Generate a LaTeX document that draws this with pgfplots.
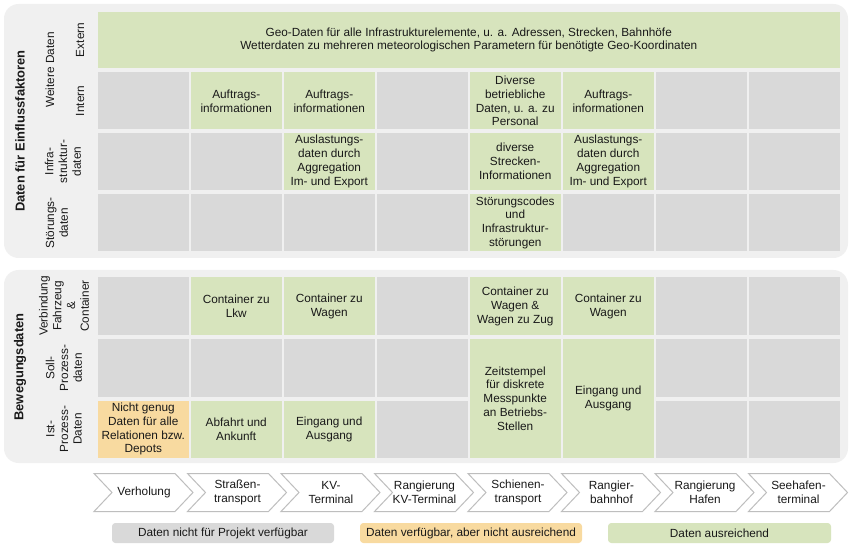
\documentclass[border=0pt]{standalone}
\usepackage{pgfplots}
\pgfplotsset{compat=1.18}
\usepackage{fontspec}
\setmainfont{Liberation Sans}
\definecolor{cgray}{RGB}{217,217,217}
\definecolor{cgreen}{RGB}{215,228,189}
\definecolor{corange}{RGB}{248,218,160}
\definecolor{panel}{RGB}{240,240,240}
\definecolor{chev}{RGB}{190,190,190}
\definecolor{txt}{RGB}{25,25,25}
\tikzset{
  celltext/.style={align=center, text=txt, font=\fontsize{8.85}{10.3}\selectfont, inner sep=0pt},
  sidetext/.style={align=center, text=txt, rotate=90, font=\fontsize{8.85}{10.3}\selectfont, inner sep=0pt},
  boldtext/.style={align=center, text=txt, rotate=90, font=\fontsize{9.7}{11}\selectfont\bfseries, inner sep=0pt},
}
\newcommand{\cell}[6]{%
  \addplot[fill=#5, draw=none] coordinates {(#1,#2) (#3,#2) (#3,#4) (#1,#4)} -- cycle;
  \node[celltext] at (axis cs:{(#1+#3)/2},{(#2+#4)/2}) {#6};
}
\newcommand{\chevron}[2]{%
  \addplot[fill=white, draw=chev, line width=0.75pt] coordinates {(#1,473.5) (#1+81,473.5) (#1+99,492.5) (#1+81,511.5) (#1,511.5) (#1+18,492.5)} -- cycle;
  \node[celltext] at (axis cs:{#1+50},492.5) {#2};
}
\begin{document}
\begin{tikzpicture}
\begin{axis}[
  width=637.5pt, height=408.75pt, scale only axis,
  xmin=0, xmax=850, ymin=0, ymax=545, y dir=reverse,
  hide axis, clip=false]
% canvas
\addplot[fill=white, draw=none] coordinates {(0,0) (850,0) (850,545) (0,545)} -- cycle;
% panels
\fill[panel, rounded corners=11pt] (axis cs:4,4) rectangle (axis cs:848,258);
\fill[panel, rounded corners=11pt] (axis cs:4,270) rectangle (axis cs:848,463);
% ---- top panel ----
% Extern row (merged)
\cell{98}{12}{839.5}{68}{cgreen}{Geo-Daten für alle Infrastrukturelemente, u. a. Adressen, Strecken, Bahnhöfe\\Wetterdaten zu mehreren meteorologischen Parametern für benötigte Geo-Koordinaten}
% Intern row
\cell{98}{72.5}{188.5}{129.5}{cgray}{}
\cell{191}{72.5}{281.5}{129.5}{cgreen}{Auftrags-\\informationen}
\cell{284}{72.5}{374.5}{129.5}{cgreen}{Auftrags-\\informationen}
\cell{377}{72.5}{467.5}{129.5}{cgray}{}
\cell{470}{72.5}{560.5}{129.5}{cgreen}{Diverse\\betriebliche\\Daten, u. a. zu\\Personal}
\cell{563}{72.5}{653.5}{129.5}{cgreen}{Auftrags-\\informationen}
\cell{656}{72.5}{746.5}{129.5}{cgray}{}
\cell{749}{72.5}{839.5}{129.5}{cgray}{}
% Infrastruktur row
\cell{98}{133}{188.5}{190}{cgray}{}
\cell{191}{133}{281.5}{190}{cgray}{}
\cell{284}{133}{374.5}{190}{cgreen}{Auslastungs-\\daten durch\\Aggregation\\Im- und Export}
\cell{377}{133}{467.5}{190}{cgray}{}
\cell{470}{133}{560.5}{190}{cgreen}{diverse\\Strecken-\\Informationen}
\cell{563}{133}{653.5}{190}{cgreen}{Auslastungs-\\daten durch\\Aggregation\\Im- und Export}
\cell{656}{133}{746.5}{190}{cgray}{}
\cell{749}{133}{839.5}{190}{cgray}{}
% Stoerung row
\cell{98}{194}{188.5}{251.5}{cgray}{}
\cell{191}{194}{281.5}{251.5}{cgray}{}
\cell{284}{194}{374.5}{251.5}{cgray}{}
\cell{377}{194}{467.5}{251.5}{cgray}{}
\cell{470}{194}{560.5}{251.5}{cgreen}{Störungscodes\\und\\Infrastruktur-\\störungen}
\cell{563}{194}{653.5}{251.5}{cgray}{}
\cell{656}{194}{746.5}{251.5}{cgray}{}
\cell{749}{194}{839.5}{251.5}{cgray}{}
% ---- bottom panel ----
\cell{98}{277}{188.5}{335.5}{cgray}{}
\cell{191}{277}{281.5}{335.5}{cgreen}{Container zu\\Lkw}
\cell{284}{277}{374.5}{335.5}{cgreen}{Container zu\\Wagen}
\cell{377}{277}{467.5}{335.5}{cgray}{}
\cell{470}{277}{560.5}{335.5}{cgreen}{Container zu\\Wagen \&\\Wagen zu Zug}
\cell{563}{277}{653.5}{335.5}{cgreen}{Container zu\\Wagen}
\cell{656}{277}{746.5}{335.5}{cgray}{}
\cell{749}{277}{839.5}{335.5}{cgray}{}
% Soll row
\cell{98}{339}{188.5}{397}{cgray}{}
\cell{191}{339}{281.5}{397}{cgray}{}
\cell{284}{339}{374.5}{397}{cgray}{}
\cell{377}{339}{467.5}{397}{cgray}{}
\cell{656}{339}{746.5}{397}{cgray}{}
\cell{749}{339}{839.5}{397}{cgray}{}
% merged Soll+Ist
\cell{470}{339}{560.5}{458}{cgreen}{Zeitstempel\\für diskrete\\Messpunkte\\an Betriebs-\\Stellen}
\cell{563}{339}{653.5}{458}{cgreen}{Eingang und\\Ausgang}
% Ist row
\cell{98}{400.5}{188.5}{458}{corange}{Nicht genug\\Daten für alle\\Relationen bzw.\\Depots}
\cell{191}{400.5}{281.5}{458}{cgreen}{Abfahrt und\\Ankunft}
\cell{284}{400.5}{374.5}{458}{cgreen}{Eingang und\\Ausgang}
\cell{377}{400.5}{467.5}{458}{cgray}{}
\cell{656}{400.5}{746.5}{458}{cgray}{}
\cell{749}{400.5}{839.5}{458}{cgray}{}
% ---- side labels ----
\node[boldtext] at (axis cs:20,131) {Daten für Einflussfaktoren};
\node[sidetext] at (axis cs:50,70) {Weitere Daten};
\node[sidetext] at (axis cs:80,40) {Extern};
\node[sidetext] at (axis cs:80,101) {Intern};
\node[sidetext] at (axis cs:63,161.5) {Infra-\\struktur-\\daten};
\node[sidetext] at (axis cs:57,223) {Störungs-\\daten};
\node[boldtext] at (axis cs:20,367) {Bewegungsdaten};
\node[sidetext] at (axis cs:64,306) {Verbindung\\Fahrzeug\\\&\\Container};
\node[sidetext] at (axis cs:64,368) {Soll-\\Prozess-\\daten};
\node[sidetext] at (axis cs:64,429) {Ist-\\Prozess-\\Daten};
% ---- chevrons ----
\chevron{94}{Verholung}
\chevron{187.5}{Straßen-\\transport}
\chevron{281}{KV-\\Terminal}
\chevron{374.5}{Rangierung\\KV-Terminal}
\chevron{468}{Schienen-\\transport}
\chevron{561.5}{Rangier-\\bahnhof}
\chevron{655}{Rangierung\\Hafen}
\chevron{748.5}{Seehafen-\\terminal}
% ---- legend ----
\addplot[fill=cgray, draw=none, rounded corners=2.5pt] coordinates {(112,523) (334,523) (334,543) (112,543)} -- cycle;
\addplot[fill=corange, draw=none, rounded corners=2.5pt] coordinates {(360,523) (582,523) (582,543) (360,543)} -- cycle;
\addplot[fill=cgreen, draw=none, rounded corners=2.5pt] coordinates {(608,523) (831,523) (831,543) (608,543)} -- cycle;
\node[celltext] at (axis cs:223,533) {Daten nicht für Projekt verfügbar};
\node[celltext] at (axis cs:471,533) {Daten verfügbar, aber nicht ausreichend};
\node[celltext] at (axis cs:719.5,533) {Daten ausreichend};
\end{axis}
\end{tikzpicture}
\end{document}
